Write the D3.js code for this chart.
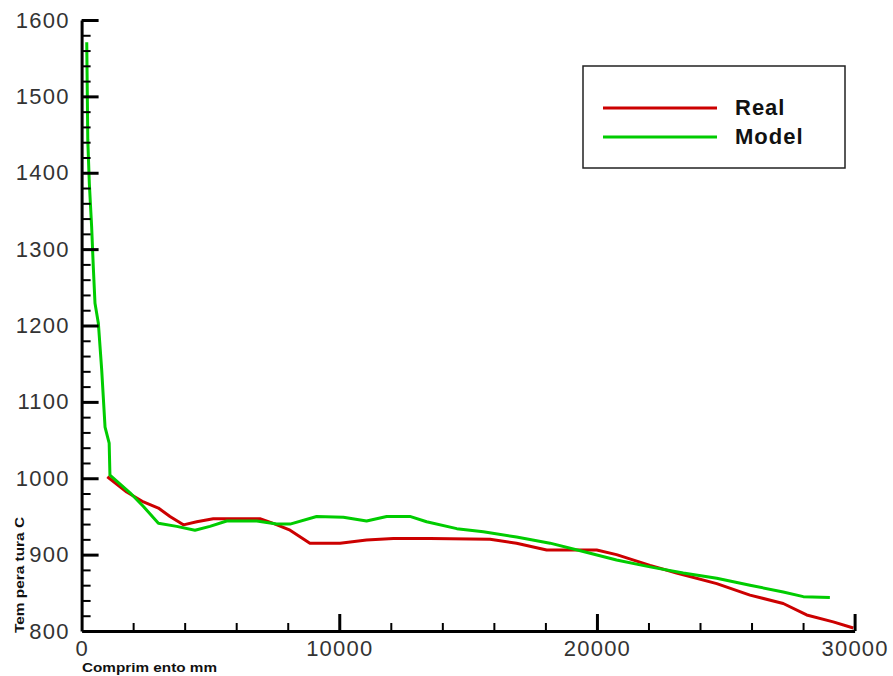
<!DOCTYPE html>
<html>
<head>
<meta charset="utf-8">
<script src="https://cdn.jsdelivr.net/npm/d3@7"></script>
<style>
  html, body { margin: 0; padding: 0; background: #fff; }
  svg { display: block; font-family: "Liberation Sans", Arial, sans-serif; }
</style>
</head>
<body>
<svg id="chart" width="893" height="676"></svg>
<script>
// ---- data ----
const xTicks = [0, 10000, 20000, 30000];
const yTicks = [800, 900, 1000, 1100, 1200, 1300, 1400, 1500, 1600];
const xMinorTicks = [2000, 4000, 6000, 8000, 12000, 14000, 16000, 18000, 22000, 24000, 26000, 28000];
const yMinorTicks = [820, 840, 860, 880, 920, 940, 960, 980, 1020, 1040, 1060, 1080, 1120, 1140, 1160, 1180,
                     1220, 1240, 1260, 1280, 1320, 1340, 1360, 1380, 1420, 1440, 1460, 1480, 1520, 1540, 1560, 1580];
const seriesNames = ["Real", "Model"];
const seriesColors = ["#cc0000", "#00cc00"];

const realX = [1000, 1750, 2400, 2980, 3430, 3950, 4470, 5110, 6920, 7440, 8090, 8860, 10030, 11060, 12100, 13520, 15850, 16880, 18050, 18820, 19990, 20760, 22060, 23090, 24650, 25940, 27230, 28140, 29170, 29950];
const realY = [1002, 982, 969, 961, 950, 939, 943, 947, 947, 941, 932, 915, 915, 919, 921, 921, 920, 915, 906, 906, 906, 900, 886, 876, 862, 847, 836, 821, 812, 804];

const modelX = [200, 240, 300, 390, 455, 520, 650, 780, 910, 1070, 1100, 1880, 2400, 2980, 3690, 4400, 4980, 5630, 6800, 7570, 8090, 9120, 10160, 11060, 11840, 12740, 13390, 14560, 15590, 16880, 18180, 19470, 20760, 22060, 23350, 24650, 25940, 27230, 28010, 29040];
const modelY = [1571, 1443, 1386, 1329, 1276, 1229, 1203, 1142, 1067, 1046, 1004, 981, 963, 941, 937, 932, 937, 944, 944, 940, 940, 950, 949, 944, 950, 950, 943, 934, 930, 923, 915, 904, 893, 884, 876, 869, 860, 851, 845, 844];

const xTitle = "Comprim ento mm";
const yTitle = "Tem pera tura  C";

// ---- layout ----
const svg = d3.select("#chart");
const xs = d3.scaleLinear().domain([0, 30000]).range([81.6, 854.6]);
const ys = d3.scaleLinear().domain([800, 1600]).range([631, 20]);
const xOrigin = xs(0), yOrigin = ys(800);

// series
const lineGen = d3.line().x(d => xs(d[0])).y(d => ys(d[1]));
const realData = realX.map((v, i) => [v, realY[i]]);
const modelData = modelX.map((v, i) => [v, modelY[i]]);
[realData, modelData].forEach((data, i) => {
  svg.append("path")
    .datum(data)
    .attr("fill", "none")
    .attr("stroke", seriesColors[i])
    .attr("stroke-width", 3)
    .attr("stroke-linejoin", "round")
    .attr("d", lineGen);
});

// axes: major ticks inward with labels
const xAxis = svg.append("g").attr("transform", `translate(0,${yOrigin})`)
  .call(d3.axisBottom(xs).tickValues(xTicks).tickSizeInner(-17).tickSizeOuter(0).tickPadding(8).tickFormat(d3.format("d")));
const yAxis = svg.append("g").attr("transform", `translate(${xOrigin},0)`)
  .call(d3.axisLeft(ys).tickValues(yTicks).tickSizeInner(-17).tickSizeOuter(0).tickPadding(12).tickFormat(d3.format("d")));
// minor ticks inward
const xAxisMinor = svg.append("g").attr("transform", `translate(0,${yOrigin})`)
  .call(d3.axisBottom(xs).tickValues(xMinorTicks).tickSizeInner(-8).tickSizeOuter(0).tickFormat(() => ""));
const yAxisMinor = svg.append("g").attr("transform", `translate(${xOrigin},0)`)
  .call(d3.axisLeft(ys).tickValues(yMinorTicks).tickSizeInner(-9).tickSizeOuter(0).tickFormat(() => ""));

[xAxis, yAxis].forEach(g => {
  g.select(".domain").attr("stroke", "#000").attr("stroke-width", 3);
  g.selectAll(".tick line").attr("stroke", "#000").attr("stroke-width", 3);
  g.selectAll(".tick text")
    .attr("fill", "#333")
    .style("font-size", "22px")
    .style("letter-spacing", "1.2px")
    .style("font-family", "'Liberation Sans', Arial, sans-serif");
});
[xAxisMinor, yAxisMinor].forEach(g => {
  g.select(".domain").remove();
  g.selectAll(".tick line").attr("stroke", "#000").attr("stroke-width", 2);
});
xAxis.selectAll(".tick text").attr("dy", "0.75em");
xAxis.selectAll(".tick").filter(d => d === 0).select("line").remove();
yAxis.selectAll(".tick").filter(d => d === 800).select("line").remove();

// axis titles
svg.append("text")
  .attr("x", 82).attr("y", 672)
  .attr("textLength", 135).attr("lengthAdjust", "spacingAndGlyphs")
  .style("font-size", "13px").style("font-weight", "bold")
  .attr("fill", "#111")
  .text(xTitle);
svg.append("text")
  .attr("transform", "translate(24,633) rotate(-90)")
  .attr("textLength", 116).attr("lengthAdjust", "spacingAndGlyphs")
  .style("font-size", "12px").style("font-weight", "bold")
  .attr("fill", "#111")
  .text(yTitle);

// legend
const lg = svg.append("g");
lg.append("rect")
  .attr("x", 583).attr("y", 66).attr("width", 262).attr("height", 102)
  .attr("fill", "#fff").attr("stroke", "#222").attr("stroke-width", 1.5);
seriesNames.forEach((name, i) => {
  const ly = 108 + i * 29;
  lg.append("line")
    .attr("x1", 603).attr("x2", 717).attr("y1", ly).attr("y2", ly)
    .attr("stroke", seriesColors[i]).attr("stroke-width", 3);
  lg.append("text")
    .attr("x", 735).attr("y", ly + 7)
    .style("font-size", "22px").style("font-weight", "bold")
    .style("letter-spacing", "1px")
    .attr("fill", "#111")
    .text(name);
});
</script>
</body>
</html>
